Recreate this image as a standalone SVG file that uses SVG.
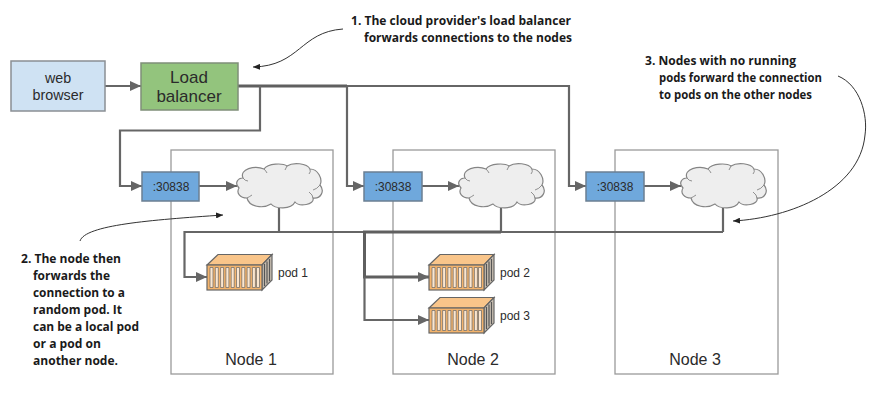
<svg xmlns="http://www.w3.org/2000/svg" xmlns:xlink="http://www.w3.org/1999/xlink" width="891" height="406" viewBox="0 0 891 406">
<style>
.node{fill:#fff;stroke:#9a9a9a;stroke-width:1.3}
.port{fill:#6fa8dc;stroke:#6b7f92;stroke-width:1.5}
.lbl{font-family:"Liberation Sans",Arial,sans-serif;fill:#2b2b2b}
.note{font-family:"Open Sans","Noto Sans",sans-serif;font-weight:700;font-size:12.500px;fill:#1a1a1a}
.wire{fill:none;stroke:#666;stroke-width:2.2}
.thick{fill:none;stroke:#5f5f5f;stroke-width:3}
.call{fill:none;stroke:#333;stroke-width:1}
</style>
<defs>
<marker id="ah" markerUnits="userSpaceOnUse" markerWidth="12" markerHeight="12" refX="11" refY="6" orient="auto"><path d="M0 1L11 6L0 11Z" fill="#666"/></marker>
<marker id="cah" markerUnits="userSpaceOnUse" markerWidth="8" markerHeight="6" refX="7" refY="3" orient="auto"><path d="M0 0L7 3L0 6Z" fill="#222"/></marker>
<g id="cloud">
<path d="M2 25C-3 20 1 15 6 15C2 6 18 2 27 6C31 0 46 0 50 3C56-1 70 0 73 6C81 6 86 16 83 22C88 28 84 36 76 35C78 42 62 44 58 39C54 47 38 46 34 41C26 46 12 44 10 35C3 35-1 30 2 25Z" fill="#eee" stroke="#858585" stroke-width="1.2"/>
<path d="M6 15Q8 18 11 18M27 6Q29 8 30 10M50 3Q49 5 48 7M73 6Q74 9 72 11M83 22Q80 26 76 27M76 35Q76 32 72 29M10 35Q12 34 15 32" fill="none" stroke="#858585" stroke-width=".9"/>
</g>
<g id="pod">
<path d="M0 11L11 .5H65L55 11Z" fill="#f9c58a" stroke="#666" stroke-width="1.2"/>
<path d="M55 11L65 .5V26L55 36Z" fill="#c9bfb2" stroke="#666" stroke-width="1.2"/>
<rect x="0" y="11" width="55" height="25" fill="#f3b36c" stroke="#666" stroke-width="1.2"/>
<path d="M3 13.500h3v20H3zM8.300 13.500h3v20h-3zM13.600 13.500h3v20h-3zM18.900 13.500h3v20h-3zM24.200 13.500h3v20h-3zM29.500 13.500h3v20h-3zM34.800 13.500h3v20h-3zM40.100 13.500h3v20h-3zM45.400 13.500h3v20h-3zM49.500 13.500h3v20h-3z" fill="#fbe6cf" stroke="#666" stroke-width=".7"/>
<path d="M57.500 10V32M60 7.500V29.500M62.500 5V27" fill="none" stroke="#555" stroke-width="1.2"/>
</g>
</defs>

<g id="node-1"><rect class="node" x="171" y="150" width="162" height="224"/><text class="lbl" x="251" y="365" font-size="16" text-anchor="middle">Node 1</text></g>
<g id="node-2"><rect class="node" x="393" y="150" width="162" height="224"/><text class="lbl" x="473" y="365" font-size="16" text-anchor="middle">Node 2</text></g>
<g id="node-3"><rect class="node" x="615" y="150" width="163" height="224"/><text class="lbl" x="695" y="365" font-size="16" text-anchor="middle">Node 3</text></g>

<g id="connectors">
<path class="wire" d="M105 86H141" marker-end="url(#ah)"/>
<path class="thick" d="M238 86H347"/>
<path class="wire" d="M347 86H569V186H586" marker-end="url(#ah)"/>
<path class="wire" d="M347 86V186H364" marker-end="url(#ah)"/>
<path class="wire" d="M260 86V130.500H120V186H142" marker-end="url(#ah)"/>
<path class="wire" d="M199 186H237" marker-end="url(#ah)"/>
<path class="wire" d="M422 186H459" marker-end="url(#ah)"/>
<path class="wire" d="M644 186H681" marker-end="url(#ah)"/>
<path class="wire" d="M279 208V232M501 208V232M723 208V232"/>
<path class="wire" d="M723 232H184.500V277H207" marker-end="url(#ah)"/>
<path class="thick" d="M501 232H364.500V277H429" marker-end="url(#ah)"/>
<path class="wire" d="M364.500 277V320H429" marker-end="url(#ah)"/>
<path class="call" d="M343 29C300 32 300 66 253 67" marker-end="url(#cah)"/>
<path class="call" d="M80 241C85 225 150 220 223 215" marker-end="url(#cah)"/>
<path class="call" d="M838 76C860 85 868 115 865 135C860 190 790 218 733 221" marker-end="url(#cah)"/>
</g>

<g id="web-browser"><rect x="11" y="61" width="94" height="50" fill="#cfe2f3" stroke="#8a8f94" stroke-width="1.5"/><text class="lbl" x="58" y="83" font-size="14.300" text-anchor="middle">web</text><text class="lbl" x="58" y="100" font-size="14.300" text-anchor="middle">browser</text></g>
<g id="load-balancer"><rect x="141" y="63" width="97" height="47" fill="#93c47d" stroke="#7f8f78" stroke-width="1.5"/><text class="lbl" x="189" y="83" font-size="17" text-anchor="middle">Load</text><text class="lbl" x="189" y="102" font-size="17" text-anchor="middle">balancer</text></g>

<g id="port-1"><rect class="port" x="142" y="172" width="57" height="29"/><text class="lbl" x="171" y="191" font-size="12" text-anchor="middle">:30838</text></g>
<g id="port-2"><rect class="port" x="364" y="172" width="58" height="29"/><text class="lbl" x="393" y="191" font-size="12" text-anchor="middle">:30838</text></g>
<g id="port-3"><rect class="port" x="586" y="172" width="58" height="29"/><text class="lbl" x="615" y="191" font-size="12" text-anchor="middle">:30838</text></g>

<g id="cloud-1"><use xlink:href="#cloud" href="#cloud" x="237" y="163"/></g>
<g id="cloud-2"><use xlink:href="#cloud" href="#cloud" x="459" y="163"/></g>
<g id="cloud-3"><use xlink:href="#cloud" href="#cloud" x="681" y="163"/></g>

<g id="pod-1"><use xlink:href="#pod" href="#pod" x="207" y="254"/><text class="lbl" x="278" y="277" font-size="12">pod 1</text></g>
<g id="pod-2"><use xlink:href="#pod" href="#pod" x="429" y="254"/><text class="lbl" x="500" y="277" font-size="12">pod 2</text></g>
<g id="pod-3"><use xlink:href="#pod" href="#pod" x="429" y="297"/><text class="lbl" x="500" y="320" font-size="12">pod 3</text></g>

<g id="notes">
<text class="note" x="351" y="25" textLength="220" lengthAdjust="spacingAndGlyphs">1. The cloud provider's load balancer</text>
<text class="note" x="364" y="42" textLength="208" lengthAdjust="spacingAndGlyphs">forwards connections to the nodes</text>
<text class="note" x="645" y="65" textLength="151" lengthAdjust="spacingAndGlyphs">3. Nodes with no running</text>
<text class="note" x="659" y="82" textLength="163" lengthAdjust="spacingAndGlyphs">pods forward the connection</text>
<text class="note" x="659" y="99" textLength="153" lengthAdjust="spacingAndGlyphs">to pods on the other nodes</text>
<text class="note" x="21" y="263" textLength="100" lengthAdjust="spacingAndGlyphs">2. The node then</text>
<text class="note" x="33" y="280" textLength="77" lengthAdjust="spacingAndGlyphs">forwards the</text>
<text class="note" x="33" y="297" textLength="92" lengthAdjust="spacingAndGlyphs">connection to a</text>
<text class="note" x="33" y="314" textLength="89" lengthAdjust="spacingAndGlyphs">random pod. It</text>
<text class="note" x="33" y="331" textLength="106" lengthAdjust="spacingAndGlyphs">can be a local pod</text>
<text class="note" x="33" y="348" textLength="68" lengthAdjust="spacingAndGlyphs">or a pod on</text>
<text class="note" x="33" y="365" textLength="85" lengthAdjust="spacingAndGlyphs">another node.</text>
</g>
</svg>
